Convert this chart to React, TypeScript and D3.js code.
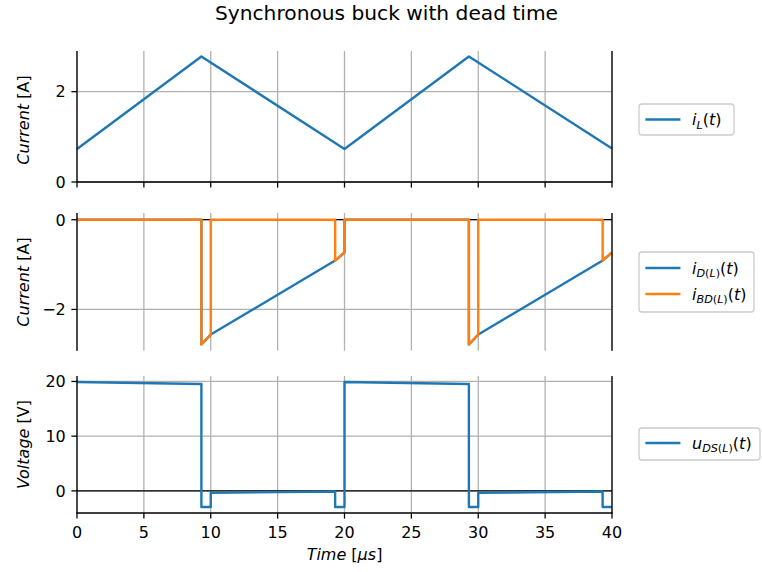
import React from "react";
import * as d3 from "d3";

// ---- data (time in µs) ----
const timeIL = [0, 9.3, 20.0, 29.3, 40];
const valIL = [0.73, 2.78, 0.73, 2.78, 0.74];

const timeID = [0, 9.3, 9.3, 10.0, 19.3, 20.0, 20.0, 29.3, 29.3, 30.0, 39.3, 40];
const valID = [0, 0, -2.78, -2.56, -0.91, -0.73, 0, 0, -2.78, -2.56, -0.91, -0.73];

const timeIBD = [0, 9.3, 9.3, 10.0, 10.0, 19.3, 19.3, 20.0, 20.0, 29.3, 29.3, 30.0, 30.0, 39.3, 39.3, 40];
const valIBD = [0, 0, -2.78, -2.56, 0, 0, -0.91, -0.73, 0, 0, -2.78, -2.56, 0, 0, -0.91, -0.73];

const timeUDS = [0, 9.3, 9.3, 10.0, 10.0, 19.3, 19.3, 20.0, 20.0, 29.3, 29.3, 30.0, 30.0, 39.3, 39.3, 40];
const valUDS = [19.9, 19.55, -2.95, -2.95, -0.37, -0.13, -2.95, -2.95, 19.9, 19.55, -2.95, -2.95, -0.37, -0.13, -2.95, -2.95];

const xTicks = [0, 5, 10, 15, 20, 25, 30, 35, 40];
const yTicksTop = [0, 2];
const yTicksMid = [0, -2];
const yTicksBot = [0, 10, 20];

const BLUE = "#1f77b4";
const ORANGE = "#ff7f0e";
const GRID = "#b0b0b0";
const FONT = "DejaVu Sans";

const x = d3.scaleLinear().domain([0, 40]).range([77, 612]);
const yTop = d3.scaleLinear().domain([0, 2.9]).range([182, 51]);
const yMid = d3.scaleLinear().domain([-2.92, 0.15]).range([350.7, 213]);
const yBot = d3.scaleLinear().domain([-4.05, 21.0]).range([513, 376]);

function pathOf(ts: number[], vs: number[], y: d3.ScaleLinear<number, number>) {
  const line = d3
    .line<number>()
    .x((_, i) => x(ts[i]))
    .y((v) => y(v));
  return line(vs) || "";
}

function MathLabel({ base, sub, x0, y0 }: { base: string; sub: string; x0: number; y0: number }) {
  const parts = sub.split(/([()])/).filter((s) => s.length > 0);
  return (
    <text x={x0} y={y0} fontFamily={FONT} fontSize={16} fill="#000">
      <tspan fontStyle="italic">{base}</tspan>
      <tspan dy={3.6} fontSize={11.2}>
        {parts.map((p, i) =>
          p === "(" || p === ")" ? (
            <tspan key={i} fontStyle="normal">{p}</tspan>
          ) : (
            <tspan key={i} fontStyle="italic">{p}</tspan>
          )
        )}
      </tspan>
      <tspan dy={-3.6}>(</tspan>
      <tspan fontStyle="italic">t</tspan>
      <tspan>)</tspan>
    </text>
  );
}

type Entry = { base: string; sub: string; color: string };

function Legend({ top, height, width, entries, rowYs }: { top: number; height: number; width: number; entries: Entry[]; rowYs: number[] }) {
  const left = 639;
  return (
    <g>
      <rect x={left} y={top} width={width} height={height} rx={3} ry={3} fill="#fff" fillOpacity={0.8} stroke="#cccccc" strokeWidth={1.28} />
      {entries.map((e, i) => (
        <g key={i}>
          <line x1={left + 6.4} x2={left + 6.4 + 35} y1={rowYs[i]} y2={rowYs[i]} stroke={e.color} strokeWidth={2.4} />
          <MathLabel base={e.base} sub={e.sub} x0={left + 53} y0={rowYs[i] + 5.5} />
        </g>
      ))}
    </g>
  );
}

function Panel({
  y,
  yTicks,
  yTickFmt,
  top,
  bottom,
  xTickAt,
  xLabels,
  zeroLine,
}: {
  y: d3.ScaleLinear<number, number>;
  yTicks: number[];
  yTickFmt: (v: number) => string;
  top: number;
  bottom: number;
  xTickAt: number | null;
  xLabels: boolean;
  zeroLine: boolean;
}) {
  const [x0, x1] = x.range();
  return (
    <g>
      {xTicks.map((t) => (
        <line key={"gx" + t} x1={x(t)} x2={x(t)} y1={top} y2={bottom} stroke={GRID} strokeWidth={1.28} />
      ))}
      {yTicks.map((t) => (
        <line key={"gy" + t} x1={x0} x2={x1} y1={y(t)} y2={y(t)} stroke={GRID} strokeWidth={1.28} />
      ))}
      {zeroLine && <line x1={x0} x2={x1} y1={y(0)} y2={y(0)} stroke="#000" strokeWidth={1.28} />}
      {yTicks.map((t) => (
        <g key={"yt" + t}>
          <line x1={x0 - 5.6} x2={x0} y1={y(t)} y2={y(t)} stroke="#000" strokeWidth={1.28} />
          <text x={x0 - 11.2} y={y(t) + 5.8} textAnchor="end" fontFamily={FONT} fontSize={16} fill="#000">
            {yTickFmt(t)}
          </text>
        </g>
      ))}
      {xTickAt !== null &&
        xTicks.map((t) => (
          <g key={"xt" + t}>
            <line x1={x(t)} x2={x(t)} y1={xTickAt} y2={xTickAt + 5.6} stroke="#000" strokeWidth={1.28} />
            {xLabels && (
              <text x={x(t)} y={xTickAt + 25} textAnchor="middle" fontFamily={FONT} fontSize={16} fill="#000">
                {String(t)}
              </text>
            )}
          </g>
        ))}
    </g>
  );
}

function Spines({ top, bottom, bottomLine }: { top: number; bottom: number; bottomLine: number | null }) {
  const [x0, x1] = x.range();
  return (
    <g>
      <line x1={x0} x2={x0} y1={top} y2={bottom} stroke="#000" strokeWidth={1.28} />
      <line x1={x1} x2={x1} y1={top} y2={bottom} stroke="#000" strokeWidth={1.28} />
      {bottomLine !== null && <line x1={x0 - 0.64} x2={x1 + 0.64} y1={bottomLine} y2={bottomLine} stroke="#000" strokeWidth={1.28} />}
    </g>
  );
}

const fmt = (v: number) => (v < 0 ? "\u2212" + Math.abs(v) : String(v));

export default function App() {
  return (
    <div style={{ position: "absolute", left: 0, top: 0 }}>
      <svg width={762} height={572} style={{ display: "block", background: "#fff" }}>
        <rect width={762} height={572} fill="#fff" />
        <text x={386.5} y={19.5} textAnchor="middle" fontFamily={FONT} fontSize={20.2} fill="#000">
          Synchronous buck with dead time
        </text>

        {/* top panel */}
        <Panel y={yTop} yTicks={yTicksTop} yTickFmt={fmt} top={51} bottom={182} xTickAt={182} xLabels={false} zeroLine={false} />
        <path d={pathOf(timeIL, valIL, yTop)} fill="none" stroke={BLUE} strokeWidth={2.4} strokeLinejoin="round" />
        <Spines top={51} bottom={182} bottomLine={182} />

        {/* middle panel */}
        <Panel y={yMid} yTicks={yTicksMid} yTickFmt={fmt} top={213} bottom={350.7} xTickAt={null} xLabels={false} zeroLine />
        <path d={pathOf(timeID, valID, yMid)} fill="none" stroke={BLUE} strokeWidth={2.4} strokeLinejoin="round" />
        <path d={pathOf(timeIBD, valIBD, yMid)} fill="none" stroke={ORANGE} strokeWidth={2.4} strokeLinejoin="round" />
        <Spines top={213} bottom={350.7} bottomLine={null} />

        {/* bottom panel */}
        <Panel y={yBot} yTicks={yTicksBot} yTickFmt={fmt} top={376} bottom={513} xTickAt={513} xLabels zeroLine />
        <path d={pathOf(timeUDS, valUDS, yBot)} fill="none" stroke={BLUE} strokeWidth={2.4} strokeLinejoin="round" />
        <Spines top={376} bottom={513} bottomLine={513} />

        {/* axis labels */}
        <text transform="translate(29,120) rotate(-90)" textAnchor="middle" fontFamily={FONT} fontSize={16} fill="#000">
          <tspan fontStyle="italic">Current</tspan>
          <tspan> [A]</tspan>
        </text>
        <text transform="translate(29,282) rotate(-90)" textAnchor="middle" fontFamily={FONT} fontSize={16} fill="#000">
          <tspan fontStyle="italic">Current</tspan>
          <tspan> [A]</tspan>
        </text>
        <text transform="translate(29,444.5) rotate(-90)" textAnchor="middle" fontFamily={FONT} fontSize={16} fill="#000">
          <tspan fontStyle="italic">Voltage</tspan>
          <tspan> [V]</tspan>
        </text>
        <text x={344.5} y={560} textAnchor="middle" fontFamily={FONT} fontSize={16} fill="#000">
          <tspan fontStyle="italic">Time</tspan>
          <tspan> [</tspan>
          <tspan fontStyle="italic">µs</tspan>
          <tspan>]</tspan>
        </text>

        {/* legends */}
        <Legend top={104} height={31} width={95} entries={[{ base: "i", sub: "L", color: BLUE }]} rowYs={[119.5]} />
        <Legend
          top={252}
          height={60}
          width={115}
          entries={[
            { base: "i", sub: "D(L)", color: BLUE },
            { base: "i", sub: "BD(L)", color: ORANGE },
          ]}
          rowYs={[268, 294]}
        />
        <Legend top={428} height={32} width={121} entries={[{ base: "u", sub: "DS(L)", color: BLUE }]} rowYs={[443]} />
      </svg>
    </div>
  );
}
